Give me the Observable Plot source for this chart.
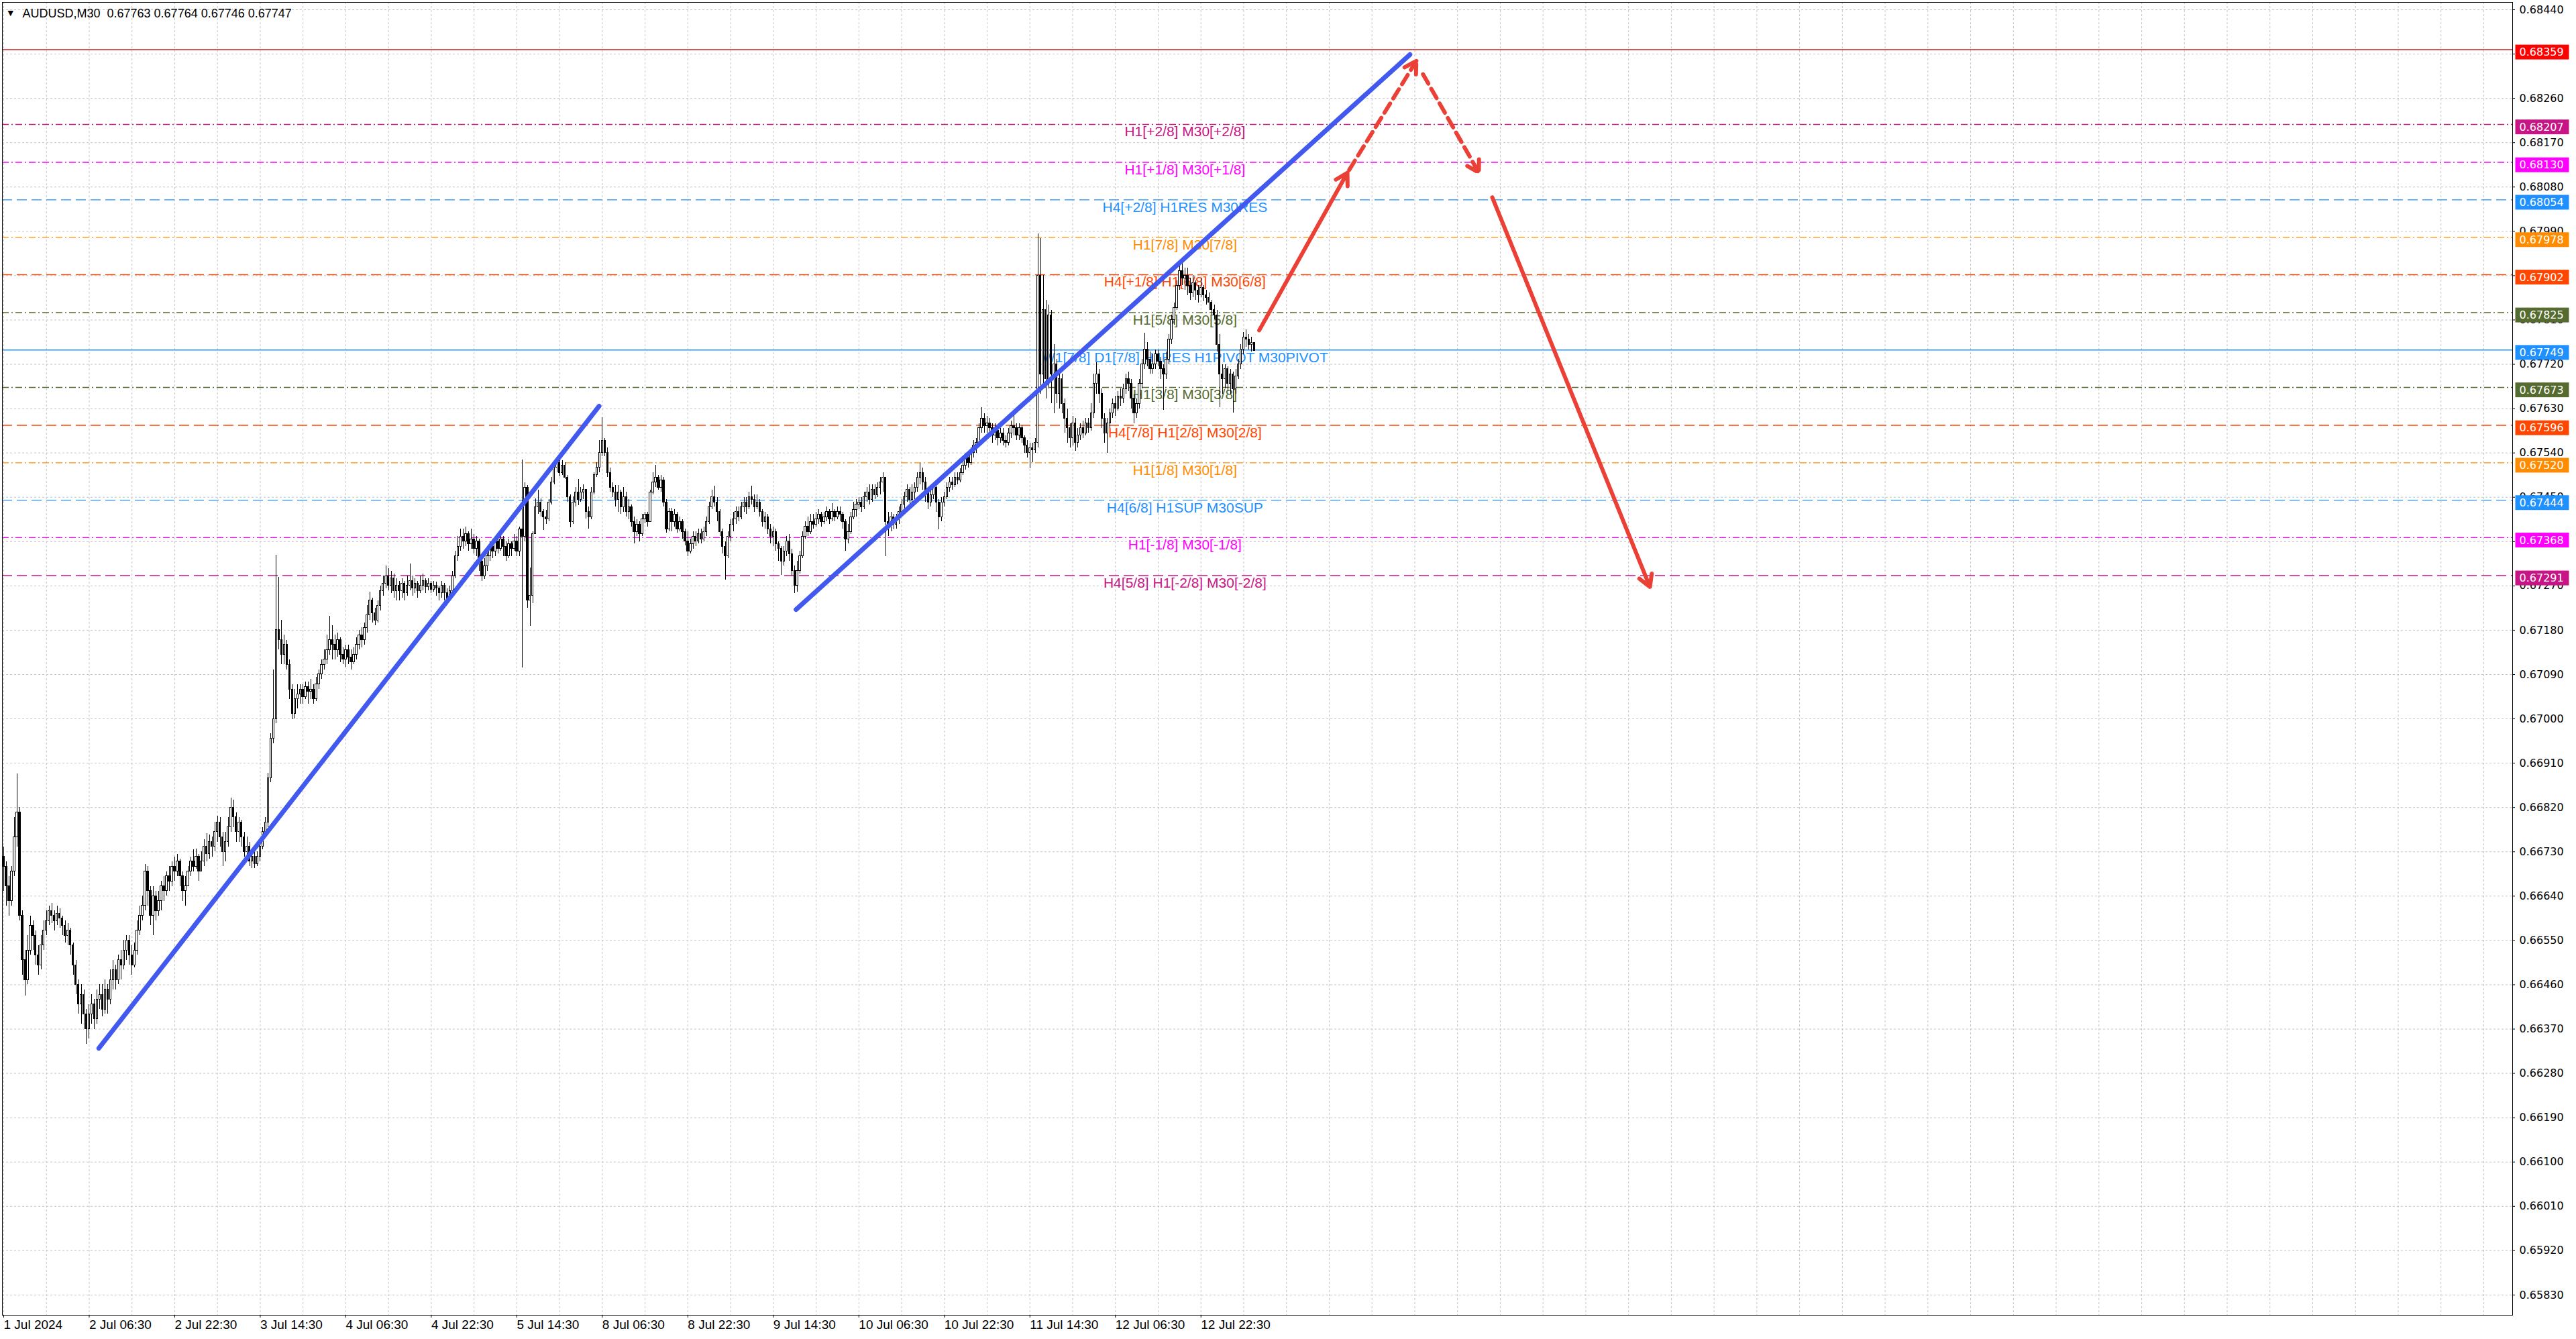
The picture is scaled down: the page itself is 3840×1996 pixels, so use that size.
<!DOCTYPE html>
<html>
<head>
<meta charset="utf-8">
<script src="https://cdn.jsdelivr.net/npm/d3@7"></script>
<script src="https://cdn.jsdelivr.net/npm/@observablehq/plot@0.6"></script>
<style>
  html, body { margin: 0; padding: 0; background: white; }
  svg text { white-space: pre; }
</style>
</head>
<body>
<div id="chart"></div>
<script>
// AUDUSD M30 candles, prices kept as points (1/100000) above 0.66000
const base = 0.66
const symbol = "AUDUSD,M30"
const lastOHLC = [0.67763, 0.67764, 0.67746, 0.67747]
const firstOpen = 720

const closePts = [
  700,660,630,690,760,810,600,510,470,530,
  580,560,520,500,540,570,590,610,600,590,
  605,595,580,560,570,540,500,460,420,440,
  400,370,400,420,390,430,440,410,450,430,
  470,490,470,510,500,530,550,520,500,530,
  570,600,620,690,650,600,640,610,630,660,
  650,680,670,700,690,710,680,650,660,690,
  710,700,720,690,710,740,725,750,740,770,
  790,760,730,750,780,820,800,770,790,760,
  730,740,710,720,705,720,740,770,790,880,
  960,1000,1180,1160,1130,1150,1110,1060,1010,1040,
  1050,1060,1045,1065,1055,1060,1040,1070,1090,1110,
  1120,1140,1160,1150,1140,1160,1130,1120,1140,1125,
  1115,1130,1150,1170,1160,1185,1210,1240,1215,1200,
  1230,1260,1275,1290,1270,1285,1260,1270,1260,1275,
  1255,1270,1280,1265,1275,1260,1270,1280,1268,1275,
  1262,1270,1265,1255,1270,1255,1245,1260,1290,1330,
  1350,1370,1360,1375,1355,1365,1345,1360,1320,1290,
  1310,1330,1350,1340,1360,1345,1365,1350,1330,1355,
  1345,1360,1340,1385,1370,1470,1240,1250,1375,1430,
  1440,1420,1410,1405,1440,1480,1510,1520,1500,1515,
  1490,1450,1400,1440,1460,1445,1460,1465,1420,1410,
  1460,1495,1510,1540,1565,1540,1500,1470,1460,1445,
  1460,1430,1450,1420,1430,1400,1380,1395,1375,1405,
  1415,1400,1460,1480,1490,1470,1485,1440,1385,1420,
  1400,1415,1385,1400,1380,1360,1340,1355,1370,1360,
  1375,1365,1380,1400,1430,1450,1440,1420,1380,1350,
  1330,1370,1395,1405,1420,1410,1430,1440,1430,1450,
  1445,1430,1440,1420,1400,1410,1385,1370,1380,1355,
  1345,1320,1340,1360,1335,1300,1270,1300,1330,1370,
  1390,1380,1400,1395,1405,1415,1400,1410,1420,1405,
  1420,1410,1420,1415,1400,1365,1380,1410,1425,1435,
  1440,1430,1450,1460,1445,1465,1455,1470,1480,1490,
  1400,1390,1410,1395,1405,1420,1435,1450,1465,1445,
  1460,1470,1490,1500,1480,1460,1440,1455,1470,1440,
  1410,1440,1450,1470,1480,1475,1490,1485,1500,1515,
  1530,1520,1540,1555,1560,1590,1610,1595,1600,1590,
  1575,1585,1570,1580,1565,1560,1580,1595,1590,1575,
  1590,1570,1555,1540,1550,1545,1560,1900,1700,1830,
  1690,1820,1700,1720,1660,1690,1640,1610,1590,1570,
  1600,1560,1575,1590,1580,1600,1590,1620,1680,1700,
  1660,1610,1580,1600,1620,1640,1630,1655,1650,1670,
  1690,1680,1650,1620,1640,1680,1720,1750,1730,1710,
  1720,1740,1725,1710,1700,1730,1770,1810,1835,1880,
  1910,1895,1900,1880,1865,1885,1870,1860,1875,1860,
  1855,1845,1830,1820,1760,1700,1690,1710,1680,1700,
  1670,1695,1720,1750,1775,1770,1760,1763,1747
]

const highPts = [
  740,710,680,700,800,888,820,610,530,560,
  600,590,570,540,560,590,610,620,625,610,
  620,615,600,590,585,575,545,510,470,460,
  450,410,420,440,430,450,460,460,470,460,
  490,510,500,520,530,550,560,560,540,545,
  590,620,640,705,700,660,660,650,650,670,
  680,690,700,710,720,725,715,690,680,700,
  720,735,736,725,730,755,767,765,760,790,
  803,800,770,770,800,839,835,810,800,795,
  770,760,750,735,730,730,750,780,800,890,
  970,1100,1333,1288,1200,1170,1160,1120,1070,1060,
  1070,1070,1070,1075,1075,1080,1070,1085,1100,1120,
  1140,1170,1208,1190,1170,1175,1165,1145,1150,1150,
  1140,1145,1165,1180,1185,1195,1230,1257,1245,1225,
  1240,1270,1290,1310,1305,1300,1295,1285,1280,1285,
  1280,1290,1315,1290,1285,1280,1290,1295,1285,1285,
  1280,1280,1278,1270,1280,1275,1265,1270,1300,1340,
  1370,1385,1385,1390,1380,1385,1375,1370,1365,1330,
  1325,1345,1360,1365,1370,1370,1375,1370,1360,1365,
  1360,1375,1370,1390,1526,1480,1474,1306,1380,1447,
  1465,1447,1425,1424,1445,1490,1519,1530,1524,1524,
  1520,1495,1455,1451,1470,1487,1470,1475,1465,1430,
  1470,1500,1520,1565,1612,1570,1551,1510,1480,1474,
  1474,1465,1470,1460,1445,1435,1410,1405,1400,1415,
  1420,1420,1465,1500,1515,1495,1495,1490,1445,1428,
  1428,1425,1420,1410,1405,1385,1380,1365,1380,1380,
  1385,1385,1390,1410,1440,1465,1473,1450,1425,1385,
  1360,1380,1405,1420,1430,1430,1440,1450,1450,1460,
  1473,1455,1455,1445,1425,1420,1415,1395,1390,1385,
  1360,1350,1350,1370,1375,1345,1310,1320,1340,1380,
  1400,1410,1415,1415,1420,1425,1420,1420,1430,1425,
  1438,1425,1430,1430,1420,1405,1395,1420,1440,1445,
  1450,1450,1460,1470,1475,1476,1475,1480,1490,1500,
  1490,1420,1420,1415,1415,1430,1445,1460,1476,1470,
  1475,1480,1500,1519,1510,1490,1470,1465,1480,1480,
  1445,1450,1460,1480,1490,1490,1500,1500,1508,1525,
  1540,1540,1550,1565,1570,1600,1632,1620,1615,1610,
  1600,1600,1595,1590,1590,1575,1590,1605,1616,1600,
  1600,1595,1575,1565,1560,1560,1570,1985,1975,1900,
  1850,1840,1830,1760,1730,1710,1700,1650,1630,1600,
  1615,1610,1590,1600,1605,1610,1610,1640,1700,1724,
  1710,1670,1620,1610,1630,1650,1655,1665,1670,1680,
  1700,1705,1690,1660,1650,1690,1730,1783,1765,1745,
  1740,1750,1750,1735,1720,1745,1780,1820,1845,1890,
  1931,1925,1915,1915,1895,1900,1890,1880,1895,1880,
  1870,1865,1850,1840,1830,1780,1720,1720,1715,1710,
  1705,1710,1730,1760,1785,1790,1780,1775,1764
]

const lowPts = [
  650,620,600,620,680,740,590,480,438,460,
  520,530,500,480,490,530,560,580,585,570,
  580,575,560,545,540,520,480,440,400,380,
  370,340,350,380,370,380,410,395,400,400,
  420,450,450,460,470,490,510,500,480,495,
  520,560,590,610,620,580,560,590,600,610,
  630,640,650,660,670,680,660,630,620,660,
  680,690,695,670,690,700,710,715,720,730,
  750,740,700,710,740,770,780,750,750,740,
  720,710,700,696,696,700,710,735,760,780,
  870,950,990,1140,1110,1110,1100,1040,999,1000,
  1020,1030,1030,1040,1030,1040,1030,1035,1060,1080,
  1100,1110,1130,1120,1120,1125,1115,1110,1105,1110,
  1100,1110,1120,1140,1145,1150,1175,1200,1195,1190,
  1195,1220,1250,1265,1260,1255,1245,1240,1240,1245,
  1240,1250,1260,1250,1255,1245,1255,1260,1255,1260,
  1255,1258,1250,1240,1245,1240,1230,1240,1250,1285,
  1320,1340,1345,1350,1340,1345,1335,1330,1300,1280,
  1284,1300,1320,1325,1330,1335,1340,1330,1320,1325,
  1330,1340,1330,1330,1104,1360,1225,1188,1235,1383,
  1415,1410,1383,1395,1400,1435,1475,1500,1492,1495,
  1487,1440,1388,1395,1430,1433,1440,1445,1406,1385,
  1405,1455,1490,1500,1533,1533,1490,1460,1450,1430,
  1420,1415,1420,1410,1405,1390,1356,1370,1360,1370,
  1397,1390,1400,1455,1470,1465,1460,1430,1378,1380,
  1380,1390,1378,1380,1365,1351,1330,1335,1345,1350,
  1355,1355,1360,1370,1395,1425,1430,1400,1370,1335,
  1282,1325,1360,1380,1395,1400,1405,1420,1415,1425,
  1435,1420,1425,1410,1390,1385,1375,1355,1350,1340,
  1320,1292,1310,1330,1320,1290,1255,1258,1295,1325,
  1365,1370,1375,1385,1390,1395,1390,1395,1400,1395,
  1400,1400,1405,1400,1385,1340,1356,1375,1405,1410,
  1425,1420,1425,1440,1435,1440,1445,1450,1455,1460,
  1330,1370,1380,1384,1385,1395,1410,1425,1440,1430,
  1440,1445,1460,1475,1465,1440,1425,1430,1445,1420,
  1384,1400,1430,1445,1460,1465,1470,1475,1480,1495,
  1505,1510,1515,1530,1540,1555,1580,1580,1580,1575,
  1560,1565,1555,1560,1555,1551,1555,1570,1575,1565,
  1565,1560,1540,1530,1508,1520,1540,1550,1660,1680,
  1650,1670,1640,1620,1640,1630,1620,1580,1560,1550,
  1555,1543,1550,1565,1570,1575,1580,1585,1610,1660,
  1640,1590,1560,1540,1590,1610,1615,1625,1635,1640,
  1660,1665,1630,1600,1610,1630,1670,1710,1715,1700,
  1700,1710,1715,1690,1627,1690,1720,1760,1800,1830,
  1870,1880,1870,1860,1850,1855,1850,1845,1855,1848,
  1840,1830,1820,1810,1745,1632,1660,1670,1665,1660,
  1621,1660,1690,1710,1740,1755,1750,1745,1746
]

// Murrey levels drawn on the chart
const levelPrices = [0.68359, 0.68207, 0.68130, 0.68054, 0.67978, 0.67902, 0.67825,
                     0.67749, 0.67673, 0.67596, 0.67520, 0.67444, 0.67368, 0.67291]
const levelLabels = ["", "H1[+2/8] M30[+2/8]", "H1[+1/8] M30[+1/8]", "H4[+2/8] H1RES M30RES",
  "H1[7/8] M30[7/8]", "H4[+1/8] H1[6/8] M30[6/8]", "H1[5/8] M30[5/8]",
  "W1[7/8] D1[7/8] H4RES H1PIVOT M30PIVOT", "H1[3/8] M30[3/8]", "H4[7/8] H1[2/8] M30[2/8]",
  "H1[1/8] M30[1/8]", "H4[6/8] H1SUP M30SUP", "H1[-1/8] M30[-1/8]", "H4[5/8] H1[-2/8] M30[-2/8]"]
const levelColors = ["#c81e1e", "#c71585", "#ff00ff", "#1e90ff", "#ff8c00", "#ff4500", "#556b2f",
                     "#1e90ff", "#556b2f", "#ff4500", "#ff8c00", "#1e90ff", "#ff00ff", "#c71585"]
const boxColors = ["#ff0000", "#c71585", "#ff00ff", "#1e90ff", "#ff8c00", "#ff4500", "#556b2f",
                   "#1e90ff", "#556b2f", "#ff4500", "#ff8c00", "#1e90ff", "#ff00ff", "#c71585"]
const levelStyles = ["solid", "dashdot", "dashdot", "dash", "dashdot", "dash", "dashdot",
                     "solid", "dashdot", "dash", "dashdot", "dash", "dashdot", "dash"]
const labelBar = 442

// axes
const yTicks = [0.6844, 0.6835, 0.6826, 0.6817, 0.6808, 0.6799, 0.6790, 0.6781, 0.6772, 0.6763,
                0.6754, 0.6745, 0.6736, 0.6727, 0.6718, 0.6709, 0.6700, 0.6691, 0.6682, 0.6673,
                0.6664, 0.6655, 0.6646, 0.6637, 0.6628, 0.6619, 0.6610, 0.6601, 0.6592, 0.6583]
const xTickBars = [0, 32, 64, 96, 128, 160, 192, 224, 256, 288, 320, 352, 384, 416, 448]
const xTickLabels = ["1 Jul 2024", "2 Jul 06:30", "2 Jul 22:30", "3 Jul 14:30", "4 Jul 06:30",
  "4 Jul 22:30", "5 Jul 14:30", "8 Jul 06:30", "8 Jul 22:30", "9 Jul 14:30", "10 Jul 06:30",
  "10 Jul 22:30", "11 Jul 14:30", "12 Jul 06:30", "12 Jul 22:30"]

// drawn objects: bar index / points
const trendLines = [
  {b1: 35.6, p1: 331, b2: 222.8, p2: 1635},
  {b1: 296.5, p1: 1222, b2: 526.2, p2: 2349}
]
const arrowsSolid = [
  {b1: 469.8, p1: 1789, b2: 502.8, p2: 2109},
  {b1: 557, p1: 2059, b2: 616, p2: 1268}
]
const arrowsDashed = [
  {b1: 503.5, p1: 2115, b2: 528.6, p2: 2336},
  {b1: 531.1, p1: 2309, b2: 552, p2: 2109}
]

const px = p => base + p / 1e5

const bars = closePts.map((c, i) => {
  const o = i === 0 ? firstOpen : closePts[i - 1]
  return {
    i,
    open: px(o),
    close: px(c),
    high: px(Math.max(highPts[i], o, c)),
    low: px(Math.min(lowPts[i], o, c))
  }
})

const levels = levelPrices.map((p, k) => ({
  price: p, label: levelLabels[k], color: levelColors[k], box: boxColors[k], style: levelStyles[k]
}))

const xLabel = new Map(xTickBars.map((b, k) => [b, xTickLabels[k]]))
const gridBars = d3.range(0, 939, 16)
const header = symbol + "  " + lastOHLC.map(v => v.toFixed(5)).join(" ")

const seg = {x1: "b1", y1: d => px(d.p1), x2: "b2", y2: d => px(d.p2)}

let chart = Plot.plot({
  width: 3840,
  height: 1996,
  marginTop: 3,
  marginRight: 95,
  marginBottom: 36,
  marginLeft: 3,
  style: {fontFamily: "DejaVu Sans", fontSize: "16px", background: "white", color: "black"},
  x: {domain: [-0.5, 938.8], axis: null},
  y: {domain: [0.65789, 0.68455], axis: null},
  color: {type: "identity"},
  marks: [
    Plot.gridY(yTicks, {stroke: "#c4c4c4", strokeOpacity: 1, strokeDasharray: "3,3"}),
    Plot.gridX(gridBars, {stroke: "#c4c4c4", strokeOpacity: 1, strokeDasharray: "3,3"}),

    Plot.ruleY(levels.filter(d => d.style == "solid"), {y: "price", stroke: "color", strokeWidth: 1.4}),
    Plot.ruleY(levels.filter(d => d.style == "dash"), {y: "price", stroke: "color", strokeWidth: 1.4, strokeDasharray: "15,7"}),
    Plot.ruleY(levels.filter(d => d.style == "dashdot"), {y: "price", stroke: "color", strokeWidth: 1.4, strokeDasharray: "10,4,2,4"}),
    Plot.text(levels, {x: labelBar, y: "price", text: "label", fill: "color", lineAnchor: "top", dy: 3,
      fontSize: 21, fontFamily: "Liberation Sans"}),

    Plot.ruleX(bars, {x: "i", y1: "low", y2: "high", stroke: "black", strokeWidth: 1, shapeRendering: "crispEdges"}),
    Plot.rect(bars, {x1: d => d.i - 0.3, x2: d => d.i + 0.3, y1: "open", y2: "close",
      fill: d => d.close >= d.open ? "white" : "black", stroke: "black", strokeWidth: 1, shapeRendering: "crispEdges"}),

    Plot.link(trendLines, {...seg, stroke: "#4159ef", strokeWidth: 7, strokeLinecap: "round"}),
    Plot.arrow(arrowsSolid, {...seg, stroke: "#eb4036", strokeWidth: 6, headLength: 5, headAngle: 60}),
    Plot.arrow(arrowsDashed, {...seg, stroke: "#eb4036", strokeWidth: 6, headLength: 5, headAngle: 60, strokeDasharray: "16,9"}),

    Plot.frame({stroke: "black", shapeRendering: "crispEdges"}),
    Plot.axisY(yTicks, {anchor: "right", tickFormat: d => d.toFixed(5), tickSize: 3, tickPadding: 7,
      textAnchor: "start", fontSize: 16, fontFamily: "DejaVu Sans"}),
    Plot.axisX(xTickBars, {anchor: "bottom", tickFormat: d => xLabel.get(d), tickSize: 4, tickPadding: 3,
      textAnchor: "start", fontSize: 19, fontFamily: "Liberation Sans"}),

    Plot.text(levels, {y: "price", text: d => d.price.toFixed(5), fill: "box", frameAnchor: "right",
      dx: 10, dy: 4, textAnchor: "start", fontSize: 16, fontFamily: "DejaVu Sans", ariaDescription: "pricebox"}),

    Plot.text([header], {text: d => d, frameAnchor: "top-left", dx: 30, dy: 10, lineAnchor: "top",
      textAnchor: "start", fontSize: 18, fontFamily: "Liberation Sans"}),
    Plot.text(["\u25BC"], {text: d => d, frameAnchor: "top-left", dx: 8, dy: 12, lineAnchor: "top",
      textAnchor: "start", fontSize: 11, fontFamily: "DejaVu Sans"})
  ]
})

d3.select('#chart').append(() => chart)

// coloured price boxes on the right scale
d3.select(chart).selectAll('g[aria-description="pricebox"] text').each(function () {
  const t = d3.select(this)
  const bb = this.getBBox()
  d3.select(this.parentNode).insert('rect', () => this)
    .attr('transform', t.attr('transform'))
    .attr('x', bb.x - 6)
    .attr('y', bb.y + bb.height / 2 - 11)
    .attr('width', 80)
    .attr('height', 22)
    .attr('fill', t.attr('fill'))
  t.attr('fill', 'white')
})
</script>
</body>
</html>
